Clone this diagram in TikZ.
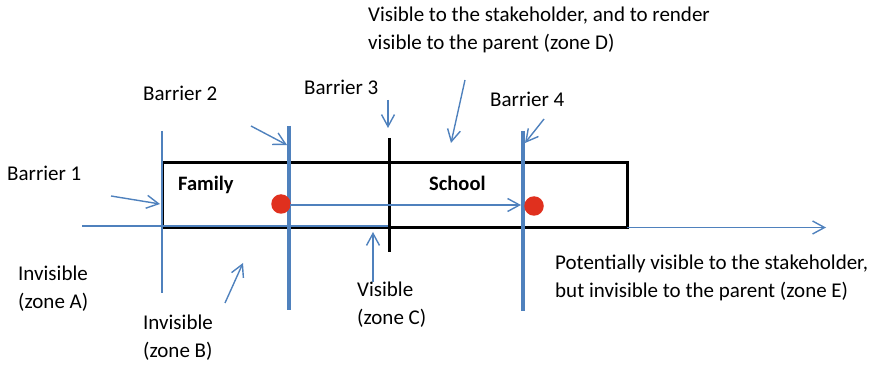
\documentclass[tikz,border=0pt]{standalone}
\usepackage{fontspec}
\setmainfont{Carlito}
\usetikzlibrary{arrows.meta}
\definecolor{barblue}{HTML}{4F81BD}
\definecolor{dotred}{HTML}{E0301E}
\begin{document}
\begin{tikzpicture}[x=1pt,y=-1pt,
  lbl/.style={anchor=base west, inner sep=0pt, font=\fontsize{21}{28}\selectfont, align=left},
  head/.style={anchor=base west, inner sep=0pt, font=\bfseries\fontsize{20.5}{24}\selectfont},
  pointer/.style={draw=barblue, line width=1.4pt, -{Straight Barb[length=12pt,width=13pt]}},
  thinbar/.style={draw=barblue, line width=1.4pt},
  thickbar/.style={draw=barblue, line width=3.6pt},
  box/.style={draw=black, line width=3pt},
  axis/.style={draw=barblue, line width=1.4pt},
  dot/.style={circle, fill=dotred, inner sep=0pt, minimum size=19.5pt}]
\useasboundingbox (0,0) rectangle (873,366);

% the two settings: family and school
\coordinate (boxNW) at (162,163);
\coordinate (boxSE) at (627,227.5);
\draw[box] (boxNW) rectangle (boxSE);

% time axis
\coordinate (axL) at (82,226);
\coordinate (axM) at (389,226);
\coordinate (axR0) at (627,227.5);
\coordinate (axR) at (826,227.5);
\draw[axis] (axL) -- (axM);
\draw[axis, -{Straight Barb[length=12pt,width=13pt]}] (axR0) -- (axR);

% barriers
\coordinate (b1t) at (162,131); \coordinate (b1b) at (162,293);
\coordinate (b2t) at (289,126); \coordinate (b2b) at (289,310);
\coordinate (b3t) at (389,138); \coordinate (b3b) at (389,252);
\coordinate (b4t) at (523,131); \coordinate (b4b) at (523,311);
\draw[thinbar] (b1t) -- (b1b);
\draw[thickbar] (b2t) -- (b2b);
\draw[draw=black, line width=3pt] (b3t) -- (b3b);
\draw[thickbar] (b4t) -- (b4b);

% information passing from family to school
\node[dot] (dotF) at (281,204) {};
\node[dot] (dotS) at (534,206) {};
\coordinate (flowS) at (290,205);
\coordinate (flowE) at (521,205);
\draw[pointer] (flowS) -- (flowE);

% labels (multi-line labels sit on the baseline of their last line)
\node[head] (family) at (178,191) {Family};
\node[head] (school) at (429,191) {School};
\node[lbl] (lb1) at (7,181) {Barrier 1};
\node[lbl] (lb2) at (143,101) {Barrier 2};
\node[lbl] (lb3) at (304,95) {Barrier 3};
\node[lbl] (lb4) at (490,107) {Barrier 4};
\node[lbl] (zD) at (368,50) {Visible to the stakeholder, and to render\\visible to the parent (zone D)};
\node[lbl] (zA) at (18,308) {Invisible\\(zone A)};
\node[lbl] (zB) at (143,357) {Invisible\\(zone B)};
\node[lbl] (zC) at (357,324) {Visible\\(zone C)};
\node[lbl] (zE) at (555,297) {Potentially visible to the stakeholder,\\but invisible to the parent (zone E)};

% pointers
\coordinate (p1s) at (111,196); \coordinate (p1e) at (160,204);
\coordinate (p2s) at (251,126); \coordinate (p2e) at (287,145);
\coordinate (p3s) at (388,100); \coordinate (p3e) at (388,128);
\coordinate (pDs) at (465,80);  \coordinate (pDe) at (451,143);
\coordinate (p4s) at (544,119); \coordinate (p4e) at (525,143);
\coordinate (pBs) at (225,303); \coordinate (pBe) at (243,263);
\coordinate (pCs) at (373,282); \coordinate (pCe) at (373,232);
\draw[pointer] (p1s) -- (p1e);
\draw[pointer] (p2s) -- (p2e);
\draw[pointer] (p3s) -- (p3e);
\draw[pointer] (pDs) -- (pDe);
\draw[pointer] (p4s) -- (p4e);
\draw[pointer] (pBs) -- (pBe);
\draw[pointer] (pCs) -- (pCe);
\end{tikzpicture}
\end{document}
